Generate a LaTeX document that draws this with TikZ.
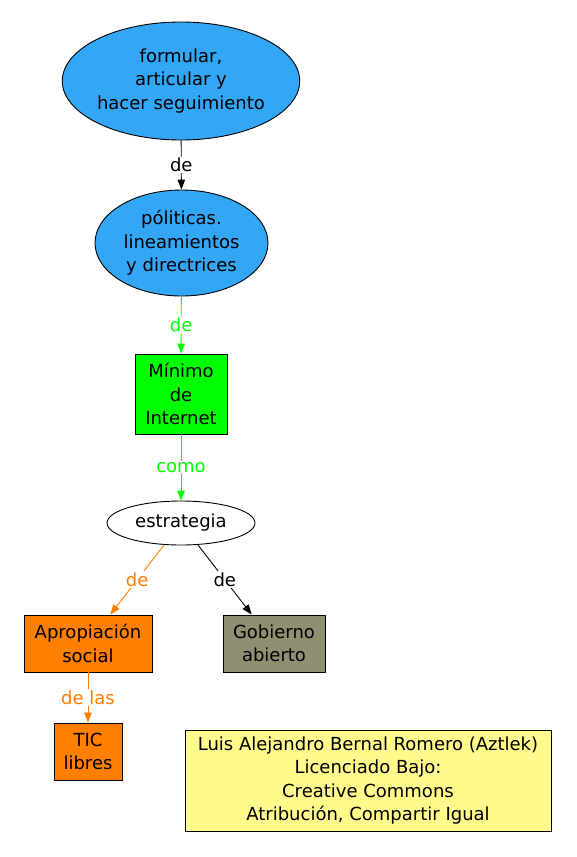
\documentclass[tikz,border=0pt]{standalone}
\usepackage{fontspec}
\setmainfont{DejaVu Sans}
\usetikzlibrary{shapes.geometric,arrows.meta}
\definecolor{nodeblue}{RGB}{51, 166, 245}
\definecolor{nodegreen}{RGB}{0, 255, 0}
\definecolor{nodeorange}{RGB}{255, 127, 0}
\definecolor{nodegray}{RGB}{143, 144, 114}
\definecolor{noteyellow}{RGB}{255, 250, 140}
\begin{document}
\begin{tikzpicture}[
        x=1pt, y=-1pt,
        font=\fontsize{18}{23.5}\selectfont,
        % Node styles
        concept/.style={ellipse, draw=black, fill=nodeblue, line width=0.9pt, inner sep=0pt, align=center},
        plain/.style={ellipse, draw=black, fill=white, line width=0.9pt, inner sep=0pt, align=center},
        box/.style={rectangle, draw=black, line width=0.9pt, inner sep=0pt, align=center},
        note/.style={rectangle, draw=black, fill=noteyellow, line width=0.9pt, inner sep=0pt, align=center},
        % Edge styles
        link/.style={-{Triangle[length=10pt,width=7.5pt]}, line width=0.9pt},
        lbl/.style={fill=white, inner sep=1.5pt}
    ]
    \useasboundingbox (0,0) rectangle (576,857);

    % Concepts
    \node[concept, minimum width=236pt, minimum height=118pt] (formular) at (181,81) {formular,\\articular y\\hacer seguimiento};
    \node[concept, minimum width=173pt, minimum height=106pt] (politicas) at (181.5,243) {póliticas.\\lineamientos\\y directrices};
    \node[box, fill=nodegreen, minimum width=92pt, minimum height=80pt] (minimo) at (181,394) {Mínimo\\de\\Internet};
    \node[plain, minimum width=148pt, minimum height=44pt] (estrategia) at (181,523) {estrategia};
    \node[box, fill=nodeorange, minimum width=128pt, minimum height=57pt] (apropiacion) at (88,643.5) {Apropiación\\social};
    \node[box, fill=nodegray, minimum width=102pt, minimum height=57pt] (gobierno) at (274,643.5) {Gobierno\\abierto};
    \node[box, fill=nodeorange, minimum width=68pt, minimum height=57pt] (tic) at (88,751.5) {TIC\\libres};

    % Licence note
    \node[note, minimum width=366pt, minimum height=101pt] (licencia) at (368,780.5) {Luis Alejandro Bernal Romero (Aztlek)\\Licenciado Bajo:\\Creative Commons\\Atribución, Compartir Igual};

    % Links
    \draw[link, black] (formular) -- node[lbl, text=black] {de} (politicas);
    \draw[link, nodegreen] (politicas) -- node[lbl, text=nodegreen] {de} (minimo);
    \draw[link, nodegreen] (minimo) -- node[lbl, text=nodegreen] {como} (estrategia);
    \draw[link, nodeorange] (estrategia) -- node[lbl, text=nodeorange] {de} (apropiacion);
    \draw[link, black] (estrategia) -- node[lbl, text=black] {de} (gobierno);
    \draw[link, nodeorange] (apropiacion) -- node[lbl, text=nodeorange] {de las} (tic);

\end{tikzpicture}
\end{document}
